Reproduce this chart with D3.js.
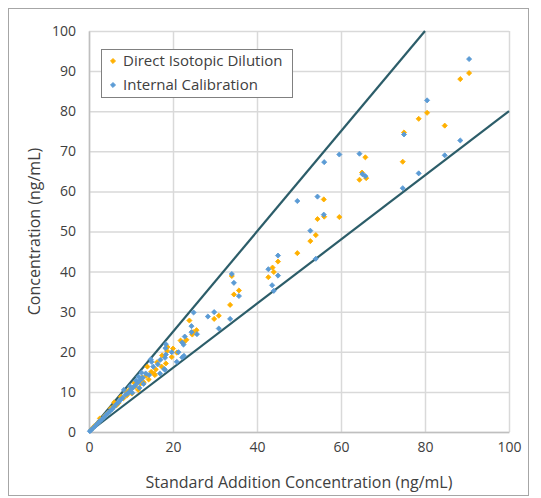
<!DOCTYPE html>
<html>
<head>
<meta charset="utf-8">
<script src="https://cdn.jsdelivr.net/npm/d3@7"></script>
<style>
  body { margin: 0; background: #fff; }
  text { font-family: "Open Sans", "Liberation Sans", sans-serif; fill: #404040; }
</style>
</head>
<body>
<svg id="chart" width="541" height="498"></svg>
<script>
// ---- data ----
const xTicks = [0, 20, 40, 60, 80, 100];
const yTicks = [0, 10, 20, 30, 40, 50, 60, 70, 80, 90, 100];
const seriesNames = ["Direct Isotopic Dilution", "Internal Calibration"];
const xTitle = "Standard Addition Concentration (ng/mL)";
const yTitle = "Concentration (ng/mL)";

// [standard addition, measured]
const didPoints = [
  [90.5,89.5],[88.4,88.0],[80.5,79.6],[78.5,78.1],[84.7,76.4],[75.0,74.7],[74.7,67.4],
  [65.8,68.5],[65.0,64.7],[66.0,63.3],[64.4,62.9],[55.9,58.0],[56.0,53.7],[54.4,53.1],
  [59.6,53.6],[54.0,49.1],[52.7,47.6],[49.6,44.6],[45.0,42.5],[43.7,41.0],[44.0,39.9],
  [42.7,38.6],[34.0,38.9],[35.7,35.3],[34.5,34.3],[33.6,31.7],[30.9,29.0],[29.8,28.2],
  [23.9,27.8],[25.6,25.4],[24.8,24.9],[24.6,24.3],[22.6,22.4],[18.7,21.2],[20.9,19.8],
  [19.7,18.7],[18.6,20.2],[17.4,19.1],[18.3,17.1],[15.9,15.6],[14.8,15.0],[13.9,16.3],
  [15.5,14.5],[13.6,14.0],[17.3,16.3],[15.7,14.2],[12.3,12.1],[11.7,10.5],[11.0,11.3],
  [10.2,9.6],[9.5,10.4],[8.2,8.4],[7.6,8.8],[7.0,7.2],[5.8,6.3],[5.2,5.9],[4.5,4.8],
  [3.8,4.1],[2.6,3.4],[2.0,2.2],[1.2,1.4],[0.6,0.7],[13.0,12.4],[12.6,13.6],[14.2,13.1],
  [10.8,12.2],[9.0,9.1],[6.5,6.6],[16.2,17.4],[20.0,20.8],[21.8,22.8],[23.2,23.0],
  [8.8,10.0],[6.0,7.4]
];
const icPoints = [
  [90.5,93.0],[80.5,82.7],[75.0,74.2],[88.4,72.7],[84.7,69.0],[78.5,64.5],[74.7,60.8],
  [59.6,69.2],[56.0,67.3],[64.4,69.4],[65.1,64.3],[65.8,63.8],[49.6,57.6],[54.4,58.7],
  [55.9,54.2],[52.7,50.2],[54.0,43.2],[45.0,44.0],[42.7,40.6],[45.0,39.0],[43.6,36.6],
  [44.0,35.2],[34.0,39.4],[34.5,37.2],[35.7,33.9],[33.6,28.2],[24.9,29.8],[29.8,29.9],
  [28.3,28.8],[24.4,26.4],[30.9,25.8],[24.4,24.9],[25.7,24.4],[22.8,23.8],[22.2,22.3],
  [22.5,21.8],[18.3,21.9],[19.7,19.9],[22.2,18.6],[18.3,19.3],[22.6,19.0],[21.3,19.9],
  [18.2,20.9],[18.1,18.5],[17.0,18.0],[16.4,16.9],[17.9,15.7],[15.3,16.3],[14.7,18.1],
  [14.3,14.2],[20.9,17.5],[18.1,15.5],[16.9,14.6],[14.9,17.5],[13.5,14.6],[12.8,13.5],
  [12.2,12.9],[11.6,12.3],[11.0,11.6],[10.5,11.1],[10.0,10.6],[9.6,10.0],[9.2,9.6],
  [8.7,9.3],[8.3,10.5],[8.0,8.5],[7.5,8.0],[7.0,7.4],[6.5,6.9],[6.0,6.3],[5.5,5.7],
  [5.0,5.2],[4.5,4.7],[4.0,4.2],[3.5,3.6],[3.0,3.1],[2.5,2.6],[2.0,2.1],[1.5,1.5],
  [1.0,1.0],[0.5,0.5],[0.2,0.2],[12.0,11.0],[11.2,12.8],[10.3,9.8],[13.0,12.0],
  [9.8,11.4],[11.8,13.8],[12.5,14.8]
];
// +25% / -20% limit lines
const upperLimit = [[0,0],[80,100]];
const lowerLimit = [[0,0],[100,80]];

// ---- layout ----
const plot = { left: 89, right: 509, top: 31, bottom: 432 };
const colors = ["#ffb000", "#5b9bd5"];
const gridColor = "#d9d9d9";

const svg = d3.select("#chart");

// chart area border
svg.append("rect")
  .attr("x", 8.5).attr("y", 8.5)
  .attr("width", 520).attr("height", 487)
  .attr("fill", "#fff").attr("stroke", "#a6a6a6").attr("stroke-width", 1);

const x = d3.scaleLinear().domain([0, 100]).range([plot.left, plot.right]);
const y = d3.scaleLinear().domain([0, 100]).range([plot.bottom, plot.top]);

// grid
svg.append("g")
  .attr("transform", `translate(0,${plot.bottom})`)
  .call(d3.axisBottom(x).tickValues(xTicks).tickSize(-(plot.bottom - plot.top)).tickFormat(""))
  .call(g => g.select(".domain").remove())
  .call(g => g.selectAll("line").attr("stroke", gridColor).attr("stroke-width", 1.5));
svg.append("g")
  .attr("transform", `translate(${plot.left},0)`)
  .call(d3.axisLeft(y).tickValues(yTicks).tickSize(-(plot.right - plot.left)).tickFormat(""))
  .call(g => g.select(".domain").remove())
  .call(g => g.selectAll("line").attr("stroke", gridColor).attr("stroke-width", 1.5));

// tick labels
svg.append("g")
  .attr("transform", `translate(0,${plot.bottom})`)
  .call(d3.axisBottom(x).tickValues(xTicks).tickSize(0).tickPadding(10))
  .call(g => g.select(".domain").attr("stroke", "#bfbfbf").attr("stroke-width", 1.5))
  .call(g => g.selectAll("text").attr("font-size", 14).attr("fill", "#404040")
    .attr("font-family", "'Open Sans', sans-serif"));
svg.append("g")
  .attr("transform", `translate(${plot.left},0)`)
  .call(d3.axisLeft(y).tickValues(yTicks).tickSize(0).tickPadding(13))
  .call(g => g.select(".domain").attr("stroke", "#bfbfbf").attr("stroke-width", 1.5))
  .call(g => g.selectAll("text").attr("font-size", 14).attr("fill", "#404040")
    .attr("font-family", "'Open Sans', sans-serif"));

// limit lines
const line = d3.line().x(d => x(d[0])).y(d => y(d[1]));
[upperLimit, lowerLimit].forEach(l => {
  svg.append("path")
    .attr("d", line(l))
    .attr("fill", "none")
    .attr("stroke", "#2c5d69")
    .attr("stroke-width", 2.2);
});

// markers: small square turned 45deg (Excel diamond)
const marker = d3.symbol().type(d3.symbolSquare).size(13);
[didPoints, icPoints].forEach((pts, i) => {
  svg.append("g").selectAll("path").data(pts).join("path")
    .attr("d", marker)
    .attr("transform", d => `translate(${x(d[0])},${y(d[1])}) rotate(45)`)
    .attr("fill", colors[i])
    .attr("stroke", colors[i])
    .attr("stroke-width", 0.8);
});

// axis titles
svg.append("text")
  .attr("x", (plot.left + plot.right) / 2).attr("y", 488)
  .attr("text-anchor", "middle").attr("font-size", 16)
  .text(xTitle);
svg.append("text")
  .attr("transform", `translate(40,${(plot.top + plot.bottom) / 2}) rotate(-90)`)
  .attr("text-anchor", "middle").attr("font-size", 16)
  .text(yTitle);

// legend
const lg = svg.append("g");
lg.append("rect")
  .attr("x", 101.5).attr("y", 49.5).attr("width", 191).attr("height", 48)
  .attr("fill", "#fff").attr("stroke", "#808080").attr("stroke-width", 1);
seriesNames.forEach((name, i) => {
  const cy = 61 + i * 24;
  lg.append("path")
    .attr("d", marker)
    .attr("transform", `translate(113,${cy}) rotate(45)`)
    .attr("fill", colors[i]).attr("stroke", colors[i]).attr("stroke-width", 0.8);
  lg.append("text")
    .attr("x", 123).attr("y", cy + 5)
    .attr("font-size", 15).attr("fill", "#262626")
    .text(name);
});
</script>
</body>
</html>
